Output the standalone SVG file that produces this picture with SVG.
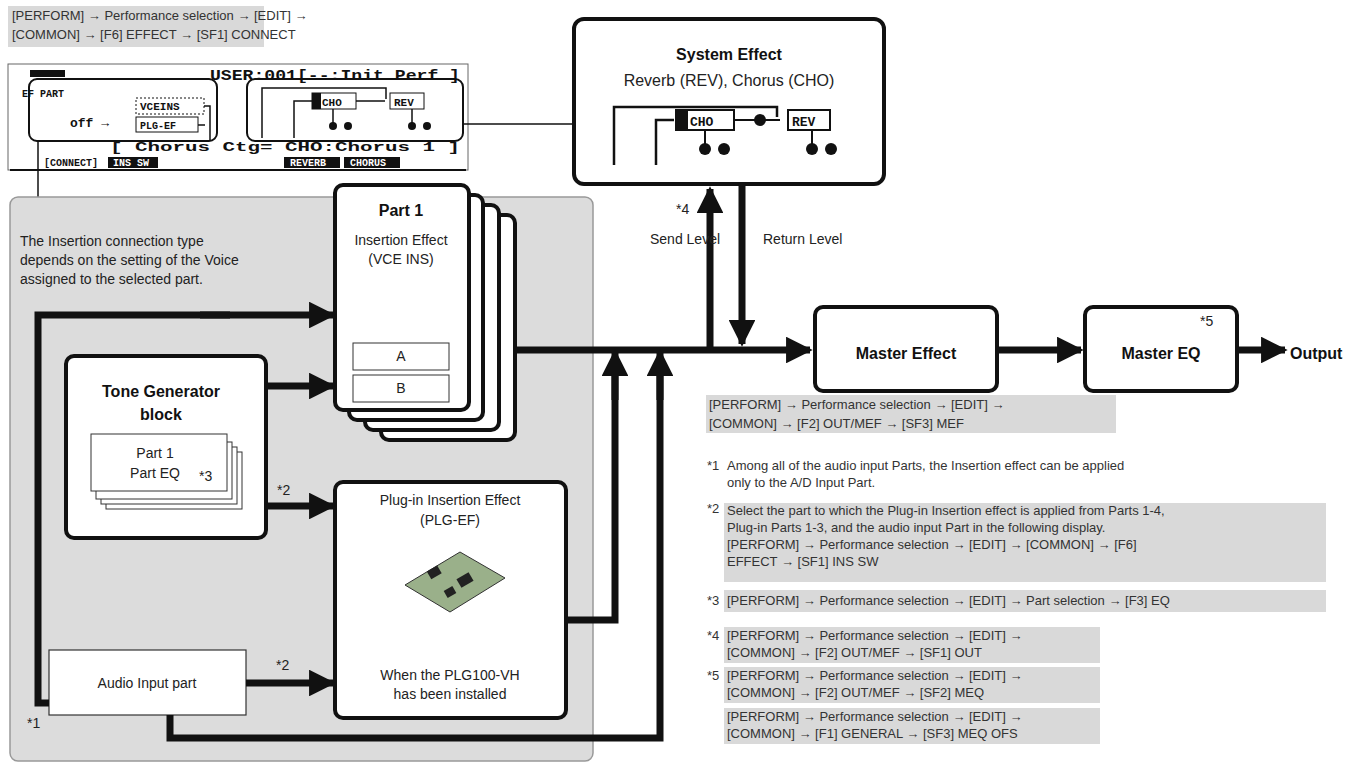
<svg xmlns="http://www.w3.org/2000/svg" width="1354" height="773" viewBox="0 0 1354 773">
<defs>
<marker id="ah" viewBox="0 0 10 10" refX="9" refY="5" markerWidth="3.8" markerHeight="3.8" orient="auto" markerUnits="strokeWidth"><path d="M0,0L10,5L0,10z" fill="#111"/></marker>
</defs>
<style>
text{font-family:"Liberation Sans",Arial,sans-serif;fill:#222}
.cap{font-size:13px;fill:#333}
.capbg{fill:#d9d9d9}
.b{font-weight:bold;font-size:16px;fill:#111}
.n{font-size:14px}
.thick{fill:none;stroke:#111;stroke-width:7;marker-end:url(#ah)}
.tl{fill:none;stroke:#111;stroke-width:7}
.box{fill:#fff;stroke:#111;stroke-width:4}
.lcd{font-family:"Liberation Mono",monospace;font-weight:bold;fill:#111}
.inv{font-family:"Liberation Mono",monospace;font-weight:bold;fill:#fff;font-size:10px}
.thin{fill:none;stroke:#111;stroke-width:1.5}
</style>
<rect class="capbg" x="8" y="6" width="256" height="41"/>
<text class="cap" x="12" y="20">[PERFORM] → Performance selection → [EDIT] →</text>
<text class="cap" x="12" y="39">[COMMON] → [F6] EFFECT → [SF1] CONNECT</text>

<g id="lcd">
<rect x="8" y="64" width="460" height="106" fill="#fff" stroke="#666" stroke-width="1"/>
<text class="lcd" x="210" y="80" font-size="15" textLength="250" lengthAdjust="spacingAndGlyphs">USER:001[--:Init Perf ]</text>
<rect x="30" y="70" width="35" height="7" fill="#111"/>
<text class="lcd" x="22" y="97" font-size="10">EF PART</text>
<rect x="136" y="98" width="68" height="16" fill="none" stroke="#111" stroke-dasharray="2,2"/>
<text class="lcd" x="140" y="110" font-size="11">VCEINS</text>
<text class="lcd" x="70" y="127" font-size="13">off →</text>
<rect x="136" y="117" width="62" height="15" fill="none" stroke="#111"/>
<text class="lcd" x="140" y="129" font-size="10">PLG-EF</text>
<path class="thin" d="M204,106H210V140M198,125H205"/>
<text class="lcd" x="110" y="151" font-size="13" textLength="350" lengthAdjust="spacingAndGlyphs">[ Chorus Ctg=   CHO:Chorus 1   ]</text>
<text class="lcd" x="44" y="166" font-size="10">[CONNECT]</text>
<rect x="108" y="157" width="50" height="11" fill="#111"/><text class="inv" x="113" y="166">INS SW</text>
<rect x="284" y="157" width="56" height="11" fill="#111"/><text class="inv" x="290" y="166">REVERB</text>
<rect x="344" y="157" width="56" height="11" fill="#111"/><text class="inv" x="350" y="166">CHORUS</text>
<rect x="10" y="169" width="456" height="2" fill="#111"/>
<rect x="29" y="79" width="188" height="62" rx="8" fill="none" stroke="#111" stroke-width="2"/>
<rect x="247" y="79" width="216" height="62" rx="8" fill="none" stroke="#111" stroke-width="2"/>
<path class="thin" d="M262,138V88H386V99M294,138V101H312"/>
<rect x="312" y="93" width="44" height="16" fill="#fff" stroke="#111"/><rect x="312" y="93" width="9" height="16" fill="#111"/>
<text class="lcd" x="322" y="106" font-size="11">CHO</text>
<path class="thin" d="M356,101H385M333,109V123M412,109V123"/>
<rect x="390" y="93" width="34" height="16" fill="#fff" stroke="#111"/>
<text class="lcd" x="394" y="106" font-size="11">REV</text>
<circle cx="333" cy="126" r="4" fill="#111"/><circle cx="348" cy="126" r="4" fill="#111"/>
<circle cx="412" cy="126" r="4" fill="#111"/><circle cx="427" cy="126" r="4" fill="#111"/>
</g>

<g id="connectors">
<path class="thin" d="M38,141V197"/>
<path class="thin" d="M463,124H574"/>
</g>

<rect x="10" y="197" width="583" height="564" rx="8" fill="#dcdcdc" stroke="#999" stroke-width="1.5"/>
<text class="n" x="20" y="246">The Insertion connection type</text>
<text class="n" x="20" y="265">depends on the setting of the Voice</text>
<text class="n" x="20" y="284">assigned to the selected part.</text>

<g id="sysfx">
<rect x="574" y="19" width="310" height="165" rx="10" class="box" stroke-width="5"/>
<text class="b" x="729" y="60" text-anchor="middle">System Effect</text>
<text x="729" y="86" text-anchor="middle" font-size="16">Reverb (REV), Chorus (CHO)</text>
<path d="M614,165V107H777V117M656,165V120H674" fill="none" stroke="#111" stroke-width="2.5"/>
<rect x="676" y="110" width="58" height="20" fill="#fff" stroke="#111" stroke-width="2"/><rect x="676" y="110" width="12" height="20" fill="#111"/>
<text class="lcd" x="690" y="126" font-size="13">CHO</text>
<path d="M734,120H780M705,130V145M812,130V145" fill="none" stroke="#111" stroke-width="2"/>
<rect x="788" y="110" width="42" height="20" fill="#fff" stroke="#111" stroke-width="2"/>
<text class="lcd" x="792" y="126" font-size="13">REV</text>
<circle cx="705" cy="149" r="6" fill="#111"/><circle cx="724" cy="149" r="6" fill="#111"/><circle cx="760" cy="120" r="6" fill="#111"/>
<circle cx="812" cy="149" r="6" fill="#111"/><circle cx="831" cy="149" r="6" fill="#111"/>
</g>

<g id="part1">
<rect x="381" y="215" width="134" height="225" rx="8" class="box" stroke-width="2.5"/>
<rect x="365" y="205" width="134" height="225" rx="8" class="box" stroke-width="2.5"/>
<rect x="349" y="195" width="134" height="225" rx="8" class="box" stroke-width="2.5"/>
<rect x="335" y="185" width="134" height="225" rx="8" class="box" stroke-width="3"/>
<text class="b" x="401" y="216" text-anchor="middle">Part 1</text>
<text class="n" x="401" y="245" text-anchor="middle">Insertion Effect</text>
<text class="n" x="401" y="264" text-anchor="middle">(VCE INS)</text>
<rect x="353" y="343" width="96" height="27" fill="#fff" stroke="#333"/><text class="n" x="401" y="361" text-anchor="middle">A</text>
<rect x="353" y="375" width="96" height="27" fill="#fff" stroke="#333"/><text class="n" x="401" y="393" text-anchor="middle">B</text>
</g>

<g id="tonegen">
<rect x="66" y="356" width="200" height="182" rx="8" class="box" stroke-width="3"/>
<text class="b" x="161" y="397" font-size="17" text-anchor="middle">Tone Generator</text>
<text class="b" x="161" y="420" font-size="17" text-anchor="middle">block</text>
<rect x="106" y="452" width="136" height="57" fill="#fff" stroke="#333"/>
<rect x="101" y="447" width="136" height="57" fill="#fff" stroke="#333"/>
<rect x="96" y="442" width="136" height="57" fill="#fff" stroke="#333"/>
<rect x="91" y="434" width="136" height="57" fill="#fff" stroke="#333"/>
<text class="n" x="155" y="458" text-anchor="middle">Part 1</text>
<text class="n" x="155" y="478" text-anchor="middle">Part EQ</text>
<text class="n" x="199" y="481" font-size="12">*3</text>
</g>

<g id="plugin">
<rect x="335" y="482" width="231" height="236" rx="8" class="box" stroke-width="3"/>
<text class="n" x="450" y="505" text-anchor="middle">Plug-in Insertion Effect</text>
<text class="n" x="450" y="525" text-anchor="middle">(PLG-EF)</text>
<path d="M405,585L460,552L505,578L450,612z" fill="#9ab08a" stroke="#333"/>
<rect x="428" y="568" width="12" height="9" fill="#222" transform="rotate(-30 434 572)"/>
<rect x="458" y="575" width="14" height="10" fill="#222" transform="rotate(-30 465 580)"/>
<rect x="445" y="588" width="10" height="8" fill="#222" transform="rotate(-30 450 592)"/>
<text class="n" x="450" y="680" text-anchor="middle">When the PLG100-VH</text>
<text class="n" x="450" y="699" text-anchor="middle">has been installed</text>
</g>

<g id="audioin">
<rect x="49" y="650" width="197" height="65" fill="#fff" stroke="#333" stroke-width="1.2"/>
<text class="n" x="147" y="688" text-anchor="middle">Audio Input part</text>
</g>

<g id="mastereffect">
<rect x="815" y="307" width="182" height="84" rx="8" class="box" stroke-width="4"/>
<text class="b" x="906" y="359" text-anchor="middle">Master Effect</text>
</g>
<g id="mastereq">
<rect x="1085" y="307" width="152" height="84" rx="8" class="box" stroke-width="4"/>
<text class="n" x="1200" y="326" font-size="12">*5</text>
<text class="b" x="1161" y="359" text-anchor="middle">Master EQ</text>
</g>
<text class="b" x="1290" y="359">Output</text>

<g id="connectors2">
<path class="tl" d="M49,703H38V315H230"/><path class="thick" d="M200,315H333"/>
<path class="thick" d="M266,386H333"/>
<path class="thick" d="M266,506H333"/>
<path class="thick" d="M246,683H333"/>
<path class="thick" d="M515,350H810"/>
<path class="tl" d="M170,715V738H660V360"/><path class="thick" d="M660,400V352"/>
<path class="tl" d="M566,620H615V360"/><path class="thick" d="M615,400V352"/>
<path class="thick" d="M710,350V189"/>
<path class="thick" d="M742,184V344"/>
<path class="thick" d="M997,350H1081"/>
<path class="thick" d="M1237,350H1285"/>
</g>
<text class="n" x="27" y="728" font-size="12">*1</text>
<text class="n" x="277" y="495" font-size="12">*2</text>
<text class="n" x="276" y="670" font-size="12">*2</text>
<text class="n" x="676" y="214" font-size="12">*4</text>
<text class="n" x="650" y="244">Send Level</text>
<text class="n" x="763" y="244">Return Level</text>

<g id="notes">
<rect class="capbg" x="706" y="395" width="410" height="38"/>
<text class="cap" x="709" y="409">[PERFORM] → Performance selection → [EDIT] →</text>
<text class="cap" x="709" y="428">[COMMON] → [F2] OUT/MEF → [SF3] MEF</text>
<text class="cap" x="707" y="470">*1</text>
<text class="cap" x="727" y="470">Among all of the audio input Parts, the Insertion effect can be applied</text>
<text class="cap" x="727" y="487">only to the A/D Input Part.</text>
<text class="cap" x="707" y="513">*2</text>
<rect class="capbg" x="724" y="503" width="602" height="79"/>
<text class="cap" x="727" y="515">Select the part to which the Plug-in Insertion effect is applied from Parts 1-4,</text>
<text class="cap" x="727" y="532">Plug-in Parts 1-3, and the audio input Part in the following display.</text>
<text class="cap" x="727" y="549">[PERFORM] → Performance selection → [EDIT] → [COMMON] → [F6]</text>
<text class="cap" x="727" y="566">EFFECT → [SF1] INS SW</text>
<text class="cap" x="707" y="605">*3</text>
<rect class="capbg" x="724" y="590" width="602" height="22"/>
<text class="cap" x="727" y="605">[PERFORM] → Performance selection → [EDIT] → Part selection → [F3] EQ</text>
<text class="cap" x="707" y="640">*4</text>
<rect class="capbg" x="724" y="627" width="376" height="36"/>
<text class="cap" x="727" y="640">[PERFORM] → Performance selection → [EDIT] →</text>
<text class="cap" x="727" y="657">[COMMON] → [F2] OUT/MEF → [SF1] OUT</text>
<text class="cap" x="707" y="680">*5</text>
<rect class="capbg" x="724" y="667" width="376" height="36"/>
<text class="cap" x="727" y="680">[PERFORM] → Performance selection → [EDIT] →</text>
<text class="cap" x="727" y="697">[COMMON] → [F2] OUT/MEF → [SF2] MEQ</text>
<rect class="capbg" x="724" y="708" width="376" height="36"/>
<text class="cap" x="727" y="721">[PERFORM] → Performance selection → [EDIT] →</text>
<text class="cap" x="727" y="738">[COMMON] → [F1] GENERAL → [SF3] MEQ OFS</text>
</g>
</svg>
